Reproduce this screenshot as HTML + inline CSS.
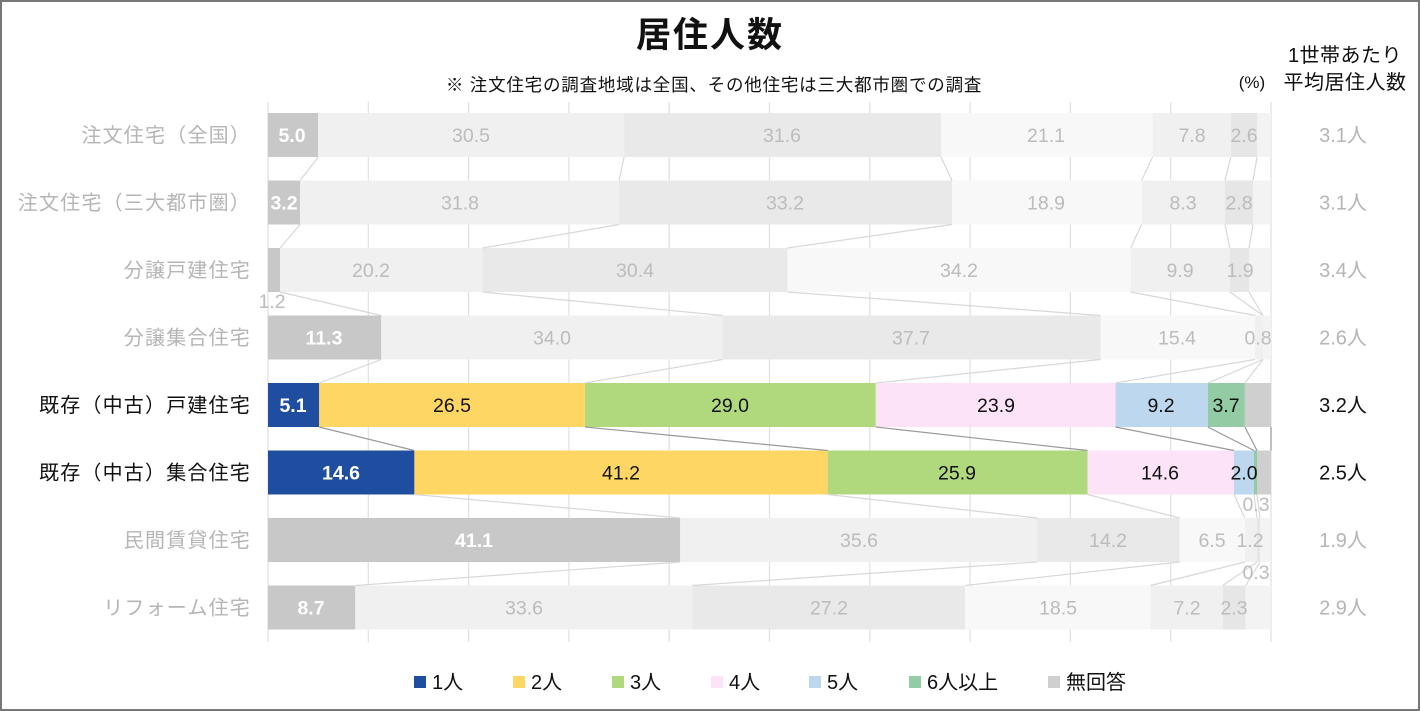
<!DOCTYPE html>
<html><head><meta charset="utf-8"><style>
html,body{margin:0;padding:0;background:#fff}
svg{display:block}
text{font-family:"Liberation Sans","Noto Sans CJK JP",sans-serif}
</style></head><body>
<svg width="1420" height="711" viewBox="0 0 1420 711" xmlns="http://www.w3.org/2000/svg">
<rect x="1" y="1" width="1418" height="709" fill="#fff" stroke="#777" stroke-width="2"/>
<text x="710" y="47" font-size="35" font-weight="bold" text-anchor="middle" fill="#111" letter-spacing="2">居住人数</text>
<text x="714" y="91" font-size="17.5" text-anchor="middle" fill="#111" letter-spacing="0.8">※ 注文住宅の調査地域は全国、その他住宅は三大都市圏での調査</text>
<text x="1345" y="62" font-size="20" text-anchor="middle" fill="#111" letter-spacing="0.5">1世帯あたり</text>
<text x="1345" y="89" font-size="20" text-anchor="middle" fill="#111" letter-spacing="0.5">平均居住人数</text>
<text x="1252" y="88" font-size="17" text-anchor="middle" fill="#111">(%)</text>
<g stroke="#e0e0e0" stroke-width="1.2">
<line x1="268" y1="102" x2="268" y2="642"/><line x1="368.3" y1="102" x2="368.3" y2="642"/><line x1="468.6" y1="102" x2="468.6" y2="642"/><line x1="568.9" y1="102" x2="568.9" y2="642"/><line x1="669.2" y1="102" x2="669.2" y2="642"/><line x1="769.5" y1="102" x2="769.5" y2="642"/><line x1="869.8" y1="102" x2="869.8" y2="642"/><line x1="970.1" y1="102" x2="970.1" y2="642"/><line x1="1070.4" y1="102" x2="1070.4" y2="642"/><line x1="1170.7" y1="102" x2="1170.7" y2="642"/><line x1="1271" y1="102" x2="1271" y2="642"/>
</g>
<g>
<rect x="268" y="113" width="50.2" height="44" fill="#c8c8c8"/><rect x="318.2" y="113" width="305.9" height="44" fill="#f0f0f0"/><rect x="624.1" y="113" width="316.9" height="44" fill="#e9e9e9"/><rect x="941" y="113" width="211.6" height="44" fill="#f8f8f8"/><rect x="1152.6" y="113" width="78.3" height="44" fill="#f0f0f0"/><rect x="1230.9" y="113" width="26.1" height="44" fill="#e6e6e6"/><rect x="1257" y="113" width="14" height="44" fill="#f3f3f3"/>
</g>
<g>
<rect x="268" y="180.5" width="32.1" height="44" fill="#c8c8c8"/><rect x="300.1" y="180.5" width="319" height="44" fill="#f0f0f0"/><rect x="619.1" y="180.5" width="332.9" height="44" fill="#e9e9e9"/><rect x="952" y="180.5" width="189.6" height="44" fill="#f8f8f8"/><rect x="1141.6" y="180.5" width="83.3" height="44" fill="#f0f0f0"/><rect x="1224.9" y="180.5" width="28.1" height="44" fill="#e6e6e6"/><rect x="1253" y="180.5" width="18" height="44" fill="#f3f3f3"/>
</g>
<g>
<rect x="268" y="248" width="12" height="44" fill="#c8c8c8"/><rect x="280" y="248" width="202.6" height="44" fill="#f0f0f0"/><rect x="482.6" y="248" width="305" height="44" fill="#e9e9e9"/><rect x="787.6" y="248" width="343" height="44" fill="#f8f8f8"/><rect x="1130.6" y="248" width="99.3" height="44" fill="#f0f0f0"/><rect x="1229.9" y="248" width="19.1" height="44" fill="#e6e6e6"/><rect x="1249" y="248" width="22" height="44" fill="#f3f3f3"/>
</g>
<g>
<rect x="268" y="315.5" width="113.3" height="44" fill="#c8c8c8"/><rect x="381.3" y="315.5" width="341.1" height="44" fill="#f0f0f0"/><rect x="722.4" y="315.5" width="378.1" height="44" fill="#e9e9e9"/><rect x="1100.5" y="315.5" width="154.5" height="44" fill="#f8f8f8"/><rect x="1255" y="315.5" width="8" height="44" fill="#f0f0f0"/><rect x="1263" y="315.5" width="8" height="44" fill="#f3f3f3"/>
</g>
<g>
<rect x="268" y="383" width="51.2" height="44" fill="#1f4ea0"/><rect x="319.2" y="383" width="265.7" height="44" fill="#fdd663"/><rect x="584.9" y="383" width="290.9" height="44" fill="#b0d97e"/><rect x="875.8" y="383" width="239.7" height="44" fill="#fde3f8"/><rect x="1115.5" y="383" width="92.3" height="44" fill="#bdd7ee"/><rect x="1207.8" y="383" width="37.1" height="44" fill="#93cba5"/><rect x="1244.9" y="383" width="26.1" height="44" fill="#cfcfcf"/>
</g>
<g>
<rect x="268" y="450.5" width="146.4" height="44" fill="#1f4ea0"/><rect x="414.4" y="450.5" width="413.3" height="44" fill="#fdd663"/><rect x="827.7" y="450.5" width="259.8" height="44" fill="#b0d97e"/><rect x="1087.5" y="450.5" width="146.4" height="44" fill="#fde3f8"/><rect x="1233.9" y="450.5" width="20.1" height="44" fill="#bdd7ee"/><rect x="1254" y="450.5" width="3" height="44" fill="#93cba5"/><rect x="1257" y="450.5" width="14" height="44" fill="#cfcfcf"/>
</g>
<g>
<rect x="268" y="518" width="412.2" height="44" fill="#c8c8c8"/><rect x="680.2" y="518" width="357.1" height="44" fill="#f0f0f0"/><rect x="1037.3" y="518" width="142.4" height="44" fill="#e9e9e9"/><rect x="1179.7" y="518" width="65.2" height="44" fill="#f8f8f8"/><rect x="1244.9" y="518" width="12.1" height="44" fill="#f0f0f0"/><rect x="1257" y="518" width="3" height="44" fill="#e6e6e6"/><rect x="1260" y="518" width="11" height="44" fill="#f3f3f3"/>
</g>
<g>
<rect x="268" y="585.5" width="87.3" height="44" fill="#c8c8c8"/><rect x="355.3" y="585.5" width="337" height="44" fill="#f0f0f0"/><rect x="692.3" y="585.5" width="272.8" height="44" fill="#e9e9e9"/><rect x="965.1" y="585.5" width="185.5" height="44" fill="#f8f8f8"/><rect x="1150.6" y="585.5" width="72.2" height="44" fill="#f0f0f0"/><rect x="1222.8" y="585.5" width="23" height="44" fill="#e6e6e6"/><rect x="1245.8" y="585.5" width="25.2" height="44" fill="#f3f3f3"/>
</g>
<g stroke="#d8d8d8" stroke-width="1.2">
<line x1="318.2" y1="157" x2="300.1" y2="180.5"/><line x1="624.1" y1="157" x2="619.1" y2="180.5"/><line x1="941" y1="157" x2="952" y2="180.5"/><line x1="1152.6" y1="157" x2="1141.6" y2="180.5"/><line x1="1230.9" y1="157" x2="1224.9" y2="180.5"/><line x1="1257" y1="157" x2="1253" y2="180.5"/>
<line x1="300.1" y1="224.5" x2="280" y2="248"/><line x1="619.1" y1="224.5" x2="482.6" y2="248"/><line x1="952" y1="224.5" x2="787.6" y2="248"/><line x1="1141.6" y1="224.5" x2="1130.6" y2="248"/><line x1="1224.9" y1="224.5" x2="1229.9" y2="248"/><line x1="1253" y1="224.5" x2="1249" y2="248"/>
<line x1="280" y1="292" x2="381.3" y2="315.5"/><line x1="482.6" y1="292" x2="722.4" y2="315.5"/><line x1="787.6" y1="292" x2="1100.5" y2="315.5"/><line x1="1130.6" y1="292" x2="1255" y2="315.5"/><line x1="1229.9" y1="292" x2="1263" y2="315.5"/><line x1="1249" y1="292" x2="1263" y2="315.5"/>
<line x1="381.3" y1="359.5" x2="319.2" y2="383"/><line x1="722.4" y1="359.5" x2="584.9" y2="383"/><line x1="1100.5" y1="359.5" x2="875.8" y2="383"/><line x1="1255" y1="359.5" x2="1115.5" y2="383"/><line x1="1263" y1="359.5" x2="1207.8" y2="383"/><line x1="1263" y1="359.5" x2="1244.9" y2="383"/>
<line x1="414.4" y1="494.5" x2="680.2" y2="518"/><line x1="827.7" y1="494.5" x2="1037.3" y2="518"/><line x1="1087.5" y1="494.5" x2="1179.7" y2="518"/><line x1="1233.9" y1="494.5" x2="1244.9" y2="518"/><line x1="1254" y1="494.5" x2="1257" y2="518"/><line x1="1257" y1="494.5" x2="1260" y2="518"/>
<line x1="680.2" y1="562" x2="355.3" y2="585.5"/><line x1="1037.3" y1="562" x2="692.3" y2="585.5"/><line x1="1179.7" y1="562" x2="965.1" y2="585.5"/><line x1="1244.9" y1="562" x2="1150.6" y2="585.5"/><line x1="1257" y1="562" x2="1222.8" y2="585.5"/><line x1="1260" y1="562" x2="1245.8" y2="585.5"/>
</g>
<g stroke="#999" stroke-width="1.2">
<line x1="319.2" y1="427" x2="414.4" y2="450.5"/><line x1="584.9" y1="427" x2="827.7" y2="450.5"/><line x1="875.8" y1="427" x2="1087.5" y2="450.5"/><line x1="1115.5" y1="427" x2="1233.9" y2="450.5"/><line x1="1207.8" y1="427" x2="1254" y2="450.5"/><line x1="1244.9" y1="427" x2="1257" y2="450.5"/><line x1="1271" y1="427" x2="1271" y2="450.5"/>
</g>
<g font-size="19.5" text-anchor="middle" fill="#bcbcbc">
<text x="292" y="142" fill="#fff" font-weight="bold">5.0</text><text x="471" y="142">30.5</text><text x="782" y="142">31.6</text><text x="1046" y="142">21.1</text><text x="1192" y="142">7.8</text><text x="1244" y="142">2.6</text>
<text x="284" y="209.5" fill="#fff" font-weight="bold">3.2</text><text x="460" y="209.5">31.8</text><text x="785" y="209.5">33.2</text><text x="1046" y="209.5">18.9</text><text x="1183" y="209.5">8.3</text><text x="1239" y="209.5">2.8</text>
<text x="272" y="308">1.2</text><text x="371" y="277">20.2</text><text x="635" y="277">30.4</text><text x="959" y="277">34.2</text><text x="1180" y="277">9.9</text><text x="1240" y="277">1.9</text>
<text x="324" y="344.5" fill="#fff" font-weight="bold">11.3</text><text x="552" y="344.5">34.0</text><text x="911" y="344.5">37.7</text><text x="1177" y="344.5">15.4</text><text x="1258" y="344.5">0.8</text>
<text x="474" y="547" fill="#fff" font-weight="bold">41.1</text><text x="859" y="547">35.6</text><text x="1108" y="547">14.2</text><text x="1212" y="547">6.5</text><text x="1250" y="547">1.2</text><text x="1256" y="579">0.3</text><text x="1256" y="511">0.3</text>
<text x="311" y="614.5" fill="#fff" font-weight="bold">8.7</text><text x="524" y="614.5">33.6</text><text x="829" y="614.5">27.2</text><text x="1058" y="614.5">18.5</text><text x="1187" y="614.5">7.2</text><text x="1234" y="614.5">2.3</text>
</g>
<g font-size="19.5" text-anchor="middle" fill="#111">
<text x="293" y="412" fill="#fff" font-weight="bold">5.1</text><text x="452" y="412">26.5</text><text x="730" y="412">29.0</text><text x="996" y="412">23.9</text><text x="1161" y="412">9.2</text><text x="1226" y="412">3.7</text>
<text x="341" y="479.5" fill="#fff" font-weight="bold">14.6</text><text x="621" y="479.5">41.2</text><text x="957" y="479.5">25.9</text><text x="1160" y="479.5">14.6</text><text x="1244" y="479.5">2.0</text>
</g>
<g font-size="20" text-anchor="end" fill="#b5b5b5" letter-spacing="1.2">
<text x="251" y="142">注文住宅（全国）</text>
<text x="251" y="209.5">注文住宅（三大都市圏）</text>
<text x="251" y="277">分譲戸建住宅</text>
<text x="251" y="344.5">分譲集合住宅</text>
<text x="251" y="412" fill="#111">既存（中古）戸建住宅</text>
<text x="251" y="479.5" fill="#111">既存（中古）集合住宅</text>
<text x="251" y="547">民間賃貸住宅</text>
<text x="251" y="614.5">リフォーム住宅</text>
</g>
<g font-size="20" text-anchor="middle" fill="#b5b5b5">
<text x="1343" y="142">3.1人</text><text x="1343" y="209.5">3.1人</text><text x="1343" y="277">3.4人</text><text x="1343" y="344.5">2.6人</text>
<text x="1343" y="412" fill="#111">3.2人</text><text x="1343" y="479.5" fill="#111">2.5人</text>
<text x="1343" y="547">1.9人</text><text x="1343" y="614.5">2.9人</text>
</g>
<g font-size="20" fill="#111">
<rect x="414" y="676" width="12" height="12" fill="#1f4ea0"/><text x="432" y="689">1人</text>
<rect x="513" y="676" width="12" height="12" fill="#fdd663"/><text x="531" y="689">2人</text>
<rect x="612" y="676" width="12" height="12" fill="#b0d97e"/><text x="630" y="689">3人</text>
<rect x="711" y="676" width="12" height="12" fill="#fde3f8"/><text x="729" y="689">4人</text>
<rect x="809" y="676" width="12" height="12" fill="#bdd7ee"/><text x="827" y="689">5人</text>
<rect x="909" y="676" width="12" height="12" fill="#93cba5"/><text x="927" y="689">6人以上</text>
<rect x="1048" y="676" width="12" height="12" fill="#cfcfcf"/><text x="1066" y="689">無回答</text>
</g>
</svg>
</body></html>
